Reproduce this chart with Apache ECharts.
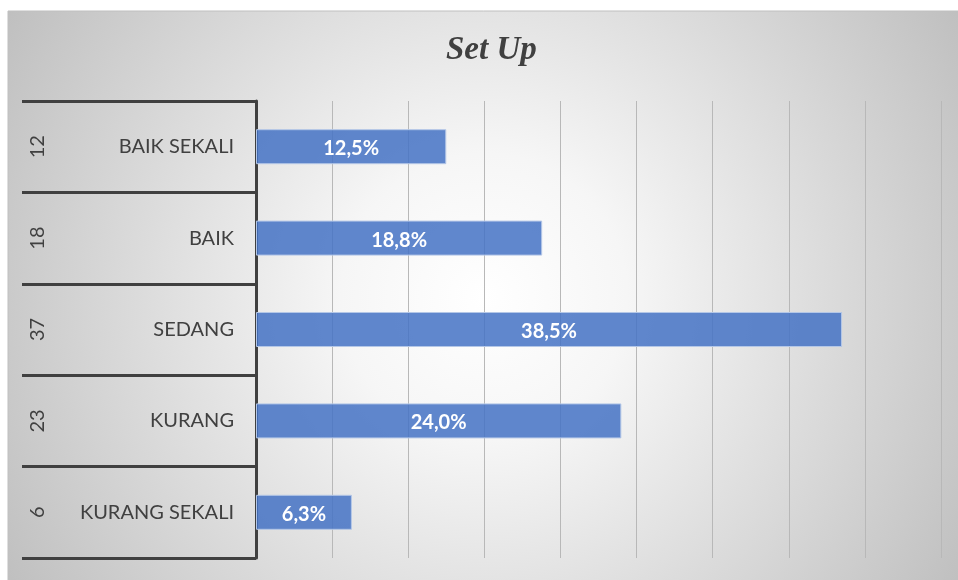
<!DOCTYPE html>
<html>
<head>
<meta charset="utf-8">
<script src="https://cdn.jsdelivr.net/npm/echarts@6/dist/echarts.min.js"></script>
<style>
  html, body { margin: 0; padding: 0; background: #fff; }
  #chart { width: 958px; height: 580px; }
</style>
</head>
<body>
<div id="chart"></div>
<script>
// data
const categories = ['BAIK SEKALI', 'BAIK', 'SEDANG', 'KURANG', 'KURANG SEKALI'];
const counts = [12, 18, 37, 23, 6];
const percents = [12.5, 18.8, 38.5, 24.0, 6.3];
const axisMax = 45;
const axisStep = 5;

const dark = '#404040';
const chart = echarts.init(document.getElementById('chart'));

const option = {
  animation: false,
  graphic: [
    {
      type: 'rect',
      z: -10,
      silent: true,
      shape: { x: 8, y: 11, width: 952, height: 572 },
      style: {
        fill: {
          type: 'radial', x: 0.5, y: 0.5, r: 1.0,
          colorStops: [
            { offset: 0, color: '#ffffff' },
            { offset: 0.25, color: '#f6f6f6' },
            { offset: 1, color: '#bdbdbd' }
          ]
        },
        stroke: '#bfbfbf',
        lineWidth: 1
      }
    }
  ],
  title: {
    text: 'Set Up',
    left: 441,
    top: 29,
    textStyle: {
      fontFamily: 'Liberation Serif',
      fontStyle: 'italic',
      fontWeight: 'bold',
      fontSize: 33,
      color: dark
    }
  },
  grid: { left: 256, right: 17, top: 101, bottom: 22 },
  xAxis: {
    type: 'value',
    min: 0,
    max: axisMax,
    interval: axisStep,
    axisLabel: { show: false },
    axisLine: { show: false },
    axisTick: { show: false },
    splitLine: { lineStyle: { color: '#b8b8b8', width: 1 } }
  },
  yAxis: [
    {
      type: 'category',
      inverse: true,
      data: categories,
      axisLine: { show: true, lineStyle: { color: dark, width: 3 } },
      axisTick: { show: true, interval: 0, length: 234, lineStyle: { color: dark, width: 3 } },
      axisLabel: {
        margin: 22,
        fontFamily: 'Lato',
        fontSize: 20,
        color: dark
      }
    },
    {
      type: 'category',
      position: 'left',
      offset: 200,
      inverse: true,
      data: counts,
      axisLine: { show: false },
      axisTick: { show: false },
      axisLabel: {
        rotate: 90,
        margin: 8,
        fontFamily: 'Lato',
        fontSize: 20,
        color: dark
      }
    }
  ],
  series: [
    {
      type: 'bar',
      data: percents,
      barWidth: 35,
      itemStyle: {
        color: 'rgba(68,114,196,0.85)',
        borderColor: '#b4c7e7',
        borderWidth: 1
      },
      label: {
        show: true,
        position: 'inside',
        offset: [0, 2],
        color: '#fff',
        fontFamily: 'Lato',
        fontWeight: 'bold',
        fontSize: 20,
        formatter: p => p.value.toFixed(1).replace('.', ',') + '%'
      }
    }
  ]
};

chart.setOption(option);
</script>
</body>
</html>
